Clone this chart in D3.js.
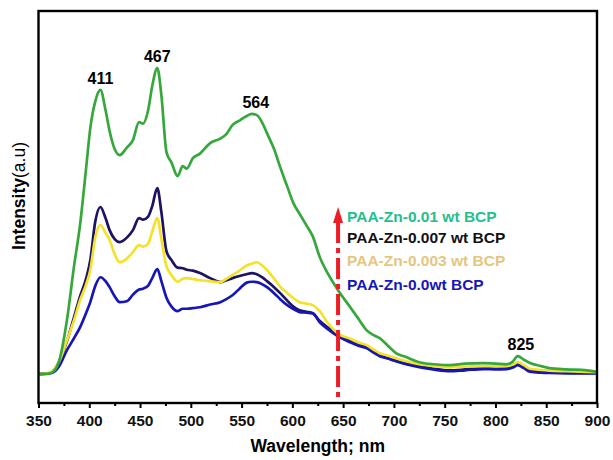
<!DOCTYPE html>
<html>
<head>
<meta charset="utf-8">
<script src="https://cdnjs.cloudflare.com/ajax/libs/d3/7.8.5/d3.min.js"></script>
<style>
  body { margin: 0; background: #fff; }
  svg text { font-family: "Liberation Sans", Arial, sans-serif; }
</style>
</head>
<body>
<svg id="chart" width="613" height="460"></svg>
<script>
// wavelength grid (nm), shared by all four spectra
var wavelengths = [350,360,365,370,378,385,391,397,401,406,411,416,420,425,430,437,443,449,453,458,462,467,471,476,481,487,492,496,502,509,519,529,535,541,548,555,560,565,570,575,582,588,595,601,607,614,620,627,635,645,657,665,673,680,686,694,702,712,725,740,755,770,788,800,811,817,822,828,834,845,853,870,890,900];

// intensities (a.u.)
var bcp001 = [0,0.2,1,4,18,36,50,69,82,91,94.7,88,81,75,73,75.5,78,84,83.5,88,96,102,93,74,70.5,66,69.3,68.5,72,73.5,77,78.5,80,83,84.5,86,86.7,86.3,84,80.3,75,69,62.5,57,53.5,49.5,46,39,33.5,28,22.3,18.5,14.7,13,12,9.5,7,5.7,4,3.3,3,3.5,3.7,3.5,3.3,4.2,6,4.8,3.7,2.7,2,1.6,1.3,0.8];
var bcp0007 = [0,0.3,1.2,4,11,19,26,32,38,51,55.7,52,48,45,44,45.5,48,52,51.5,52.5,56,62,54,41,38,35.5,35.3,34.8,34.5,33.7,32,30.7,31.3,32,32.7,33.3,33.7,33.3,32.3,31,29,27,24.5,22.5,21.3,20.8,20.3,17.7,15.5,13,11,9.8,9,7.5,6.3,5.3,4.5,3.5,2.7,1.8,1.3,1.6,2,1.9,2,2.4,3.3,2.3,1.2,0.8,0.6,0.5,0.4,0.4];
var bcp0003 = [0,0.5,1.5,4,11.3,18,24.7,30,34.7,45.7,49.7,47,44.7,40,37.3,38.5,40.7,43,42.5,43.5,47.5,52,45,36,33,30.8,31.8,32,31.7,31.3,31,30.7,31.8,33,34.5,36.2,36.8,37.3,36.3,34.7,31.8,29.2,27,25.3,24,23.5,23,21,17,13.5,11.8,10.6,9.7,8.2,7,6.2,5.3,4.3,3.3,2.7,2.3,2.5,2.7,2.6,2.7,3.2,4,3,1.8,1.4,1.2,1,0.8,0.7];
var bcp0 = [0,0.2,0.7,2.5,8,12,15.7,20.5,24,29.5,32.3,31,29,26,24,24.3,26.5,28.2,28.5,29.5,32,35,31,25.5,22.5,21,21.8,21.8,22,22.3,23.2,24,25,26.3,28.5,30.5,30.8,30.7,30,29,27,25,23,21.7,20.7,20.5,20.3,17.3,15,12.6,10.6,9.5,8.7,7.2,6,5.2,4.3,3.3,2.3,1.5,1,1.3,1.7,1.6,1.7,2.2,3,2,0.8,0.5,0.4,0.3,0.3,0.3];

var xTicks = [350,400,450,500,550,600,650,700,750,800,850,900];
var xMinorTicks = [375,425,475,525,575,625,675,725,775,825,875];
var peakLabels = [411,467,564,825];
var legendNames = ["PAA-Zn-0.01 wt BCP","PAA-Zn-0.007 wt BCP","PAA-Zn-0.003 wt BCP","PAA-Zn-0.0wt BCP"];
var arrowAt = 645;   // nm
var arrowTop = 55.7; // a.u.

function drawChart() {
    var svg = d3.select("#chart");
    var mLeft = 38.5, mRight = 597, mTop = 11, mBottom = 403;

    var x = d3.scaleLinear().domain([350, 900]).range([mLeft, mRight]);
    var y = d3.scaleLinear().domain([-9.6, 121]).range([mBottom, mTop]);

    // series: draw order bottom -> top
    var series = [
        {values: bcp0007, color: "#1e1262"},
        {values: bcp0,    color: "#1616b8"},
        {values: bcp0003, color: "#f4e22a"},
        {values: bcp001,  color: "#36a83b"}
    ];

    var line = d3.line()
        .x(function(d) { return x(d[0]); })
        .y(function(d) { return y(d[1]); })
        .curve(d3.curveMonotoneX);

    series.forEach(function(s) {
        svg.append("path")
            .datum(d3.zip(wavelengths, s.values))
            .attr("fill", "none")
            .attr("stroke", s.color)
            .attr("stroke-width", 2.7)
            .attr("stroke-linejoin", "round")
            .attr("d", line);
    });

    // peak labels above the green curve
    peakLabels.forEach(function(p) {
        var i = d3.minIndex(wavelengths, function(w) { return Math.abs(w - p); });
        var v = d3.max(bcp001.slice(Math.max(0, i - 1), i + 2));
        svg.append("text")
            .attr("x", x(p))
            .attr("y", y(v) - 6)
            .attr("text-anchor", "middle")
            .style("font-size", "16px")
            .style("font-weight", "bold")
            .text(p);
    });

    // red dash-dot arrow
    var ax = x(arrowAt), ayTop = y(arrowTop);
    svg.append("line")
        .attr("x1", ax).attr("x2", ax)
        .attr("y1", ayTop + 15).attr("y2", mBottom)
        .attr("stroke", "#ee1c24")
        .attr("stroke-width", 4)
        .attr("stroke-dasharray", "21,5,5,5");
    svg.append("path")
        .attr("d", "M" + ax + "," + ayTop + "L" + (ax + 5) + "," + (ayTop + 16) + "L" + (ax - 5) + "," + (ayTop + 16) + "Z")
        .attr("fill", "#ee1c24");

    // legend
    var legendColors = ["#24bf8c", "#111111", "#e5c67e", "#1616b8"];
    var legendY = [222, 243, 266, 290];
    legendNames.forEach(function(name, i) {
        svg.append("text")
            .attr("x", ax + 9)
            .attr("y", legendY[i])
            .style("font-size", "15.5px")
            .style("font-weight", "bold")
            .attr("fill", legendColors[i])
            .text(name);
    });

    // axes
    var gx = svg.append("g").attr("transform", "translate(0," + mBottom + ")");
    gx.call(d3.axisBottom(x).tickValues(xTicks).tickSize(5).tickPadding(6.5).tickFormat(d3.format("d")));
    gx.selectAll("text").style("font-size", "15.5px").style("font-weight", "bold").attr("fill", "#111");
    gx.selectAll("line").attr("stroke-width", 2);
    gx.select(".domain").remove();

    var gm = svg.append("g").attr("transform", "translate(0," + mBottom + ")");
    gm.call(d3.axisBottom(x).tickValues(xMinorTicks).tickSize(3).tickFormat(""));
    gm.selectAll("line").attr("stroke-width", 2);
    gm.select(".domain").remove();

    // frame
    svg.append("rect")
        .attr("x", mLeft).attr("y", mTop)
        .attr("width", mRight - mLeft).attr("height", mBottom - mTop)
        .attr("fill", "none")
        .attr("stroke", "#000")
        .attr("stroke-width", 2.4);

    // axis titles
    svg.append("text")
        .attr("x", (mLeft + mRight) / 2)
        .attr("y", 452)
        .attr("text-anchor", "middle")
        .style("font-size", "17.5px")
        .style("font-weight", "bold")
        .text("Wavelength; nm");

    var yt = svg.append("text")
        .attr("transform", "translate(25,196) rotate(-90)")
        .attr("text-anchor", "middle")
        .style("font-size", "17.5px");
    yt.append("tspan").style("font-weight", "bold").text("Intensity");
    yt.append("tspan").style("font-weight", "normal").text("(a.u)");
}

drawChart();
</script>
</body>
</html>
